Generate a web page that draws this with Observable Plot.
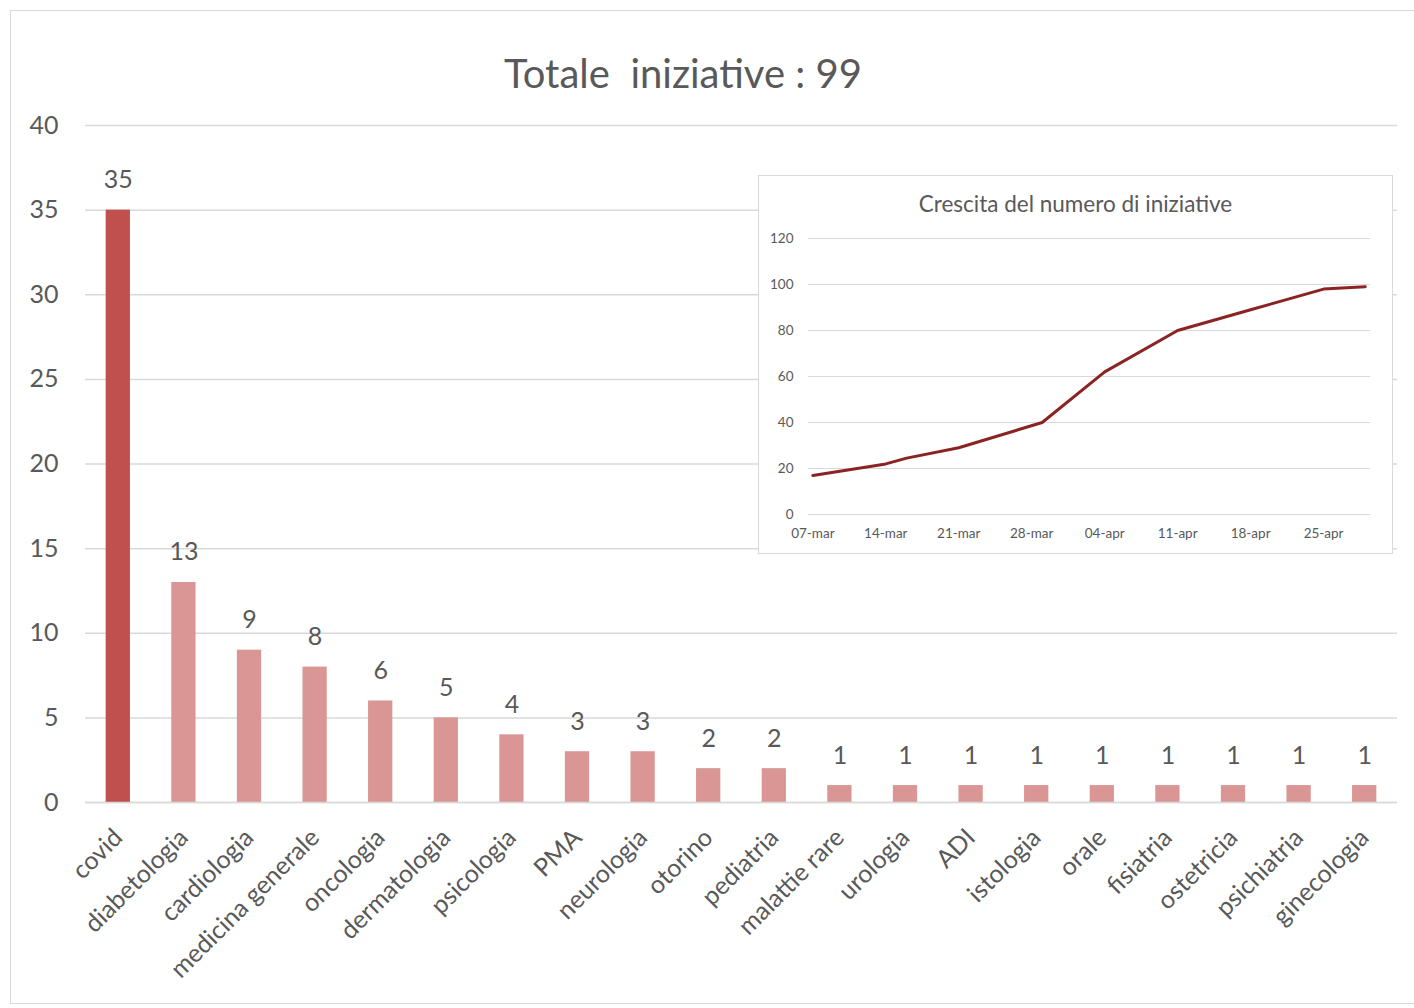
<!DOCTYPE html>
<html>
<head>
<meta charset="utf-8">
<script src="https://cdn.jsdelivr.net/npm/d3@7"></script>
<script src="https://cdn.jsdelivr.net/npm/@observablehq/plot@0.6"></script>
<style>
  html, body { margin: 0; padding: 0; background: #fff; }
  body { font-family: Lato, "Open Sans", sans-serif; }
  #wrap { position: relative; width: 1414px; height: 1008px; overflow: hidden; }
  #frame { position: absolute; left: 10px; top: 10px; width: 1410px; height: 994px; border: 1px solid #d9d9d9; box-sizing: border-box; }
  #title { position: absolute; top: 49px; left: 683px; transform: translateX(-50%); font-size: 40px; line-height: 48px; color: #595959; white-space: pre; }
  #main { position: absolute; left: 0; top: 0; }
  #inset { position: absolute; left: 758px; top: 175px; width: 635px; height: 379px; border: 1px solid #d9d9d9; box-sizing: border-box; background: #fff; }
  #insetTitle { position: absolute; top: 14px; left: 0; width: 100%; text-align: center; font-size: 22.5px; color: #595959; }
  #insetPlot { position: absolute; left: 0; top: 0; }
</style>
</head>
<body>
<div id="wrap">
  <div id="frame"></div>
  <div id="main"></div>
  <div id="title">Totale  iniziative : 99</div>
  <div id="inset">
    <div id="insetPlot"></div>
    <div id="insetTitle">Crescita del numero di iniziative</div>
  </div>
</div>
<script>
// Main bar chart data
const categories = ["covid", "diabetologia", "cardiologia", "medicina generale", "oncologia", "dermatologia", "psicologia", "PMA", "neurologia", "otorino", "pediatria", "malattie rare", "urologia", "ADI", "istologia", "orale", "fisiatria", "ostetricia", "psichiatria", "ginecologia"];
const counts = [35, 13, 9, 8, 6, 5, 4, 3, 3, 2, 2, 1, 1, 1, 1, 1, 1, 1, 1, 1];
const yTicks = [0, 5, 10, 15, 20, 25, 30, 35, 40];

// Inset line data (cumulative number of initiatives)
const growthDates = ["2020-03-07", "2020-03-14", "2020-03-16", "2020-03-21", "2020-03-29", "2020-04-04", "2020-04-11", "2020-04-18", "2020-04-25", "2020-04-29"];
const growthValues = [17, 22, 24.5, 29, 40, 62, 80, 89, 98, 99];
const insetTickDates = ["2020-03-07", "2020-03-14", "2020-03-21", "2020-03-28", "2020-04-04", "2020-04-11", "2020-04-18", "2020-04-25"];
const insetTickLabels = ["07-mar", "14-mar", "21-mar", "28-mar", "04-apr", "11-apr", "18-apr", "25-apr"];
const insetYTicks = [0, 20, 40, 60, 80, 100, 120];

const bars = categories.map((c, i) => ({cat: c, val: counts[i], first: i === 0}));
const gray = "#595959";
const gridColor = "#d9d9d9";

const main = Plot.plot({
  width: 1414,
  height: 1008,
  marginLeft: 85,
  marginRight: 17,
  marginTop: 125,
  marginBottom: 206,
  style: {fontFamily: "Lato, 'Open Sans', sans-serif", fontSize: "25px", color: gray, background: "transparent", overflow: "visible"},
  x: {domain: categories, paddingInner: 0.63, paddingOuter: 0.315, round: false, label: null},
  y: {domain: [0, 40], label: null},
  marks: [
    Plot.gridY(yTicks, {stroke: gridColor, strokeOpacity: 1, strokeWidth: 1.5}),
    Plot.axisY(yTicks, {tickSize: 0, tickPadding: 27, fill: gray, fontSize: 25}),
    Plot.axisX({tickSize: 0, tickPadding: 31, tickRotate: -45, fill: gray, fontSize: 25, label: null}),
    Plot.barY(bars, {x: "cat", y: "val", fill: d => d.first ? "#c0504d" : "#d99694"}),
    Plot.ruleY([0], {stroke: gridColor, strokeWidth: 1.5}),
    Plot.text(bars, {x: "cat", y: "val", text: d => String(d.val), dy: -30, fill: gray, fontSize: 25})
  ]
});
document.getElementById("main").appendChild(main);

const growth = growthDates.map((d, i) => ({date: new Date(d), val: growthValues[i]}));
const tickDates = insetTickDates.map(d => new Date(d));

const inset = Plot.plot({
  width: 633,
  height: 377,
  marginLeft: 49,
  marginRight: 22,
  marginTop: 62,
  marginBottom: 39,
  style: {fontFamily: "Lato, 'Open Sans', sans-serif", fontSize: "13.5px", color: gray, background: "transparent"},
  x: {type: "utc", domain: [new Date("2020-03-06T14:00Z"), new Date("2020-04-29T12:00Z")], label: null},
  y: {domain: [0, 120], label: null},
  marks: [
    Plot.gridY(insetYTicks, {stroke: gridColor, strokeOpacity: 1, strokeWidth: 1.2}),
    Plot.axisY(insetYTicks, {tickSize: 0, tickPadding: 15, fill: gray, fontSize: 13.5}),
    Plot.axisX(tickDates, {tickSize: 0, tickPadding: 14, fill: gray, fontSize: 13.5, tickFormat: (d, i) => insetTickLabels[i], label: null}),
    Plot.ruleY([0], {stroke: gridColor, strokeWidth: 1.2}),
    Plot.lineY(growth, {x: "date", y: "val", stroke: "#8b2323", strokeWidth: 3, strokeLinejoin: "round"})
  ]
});
document.getElementById("insetPlot").appendChild(inset);
</script>
</body>
</html>
